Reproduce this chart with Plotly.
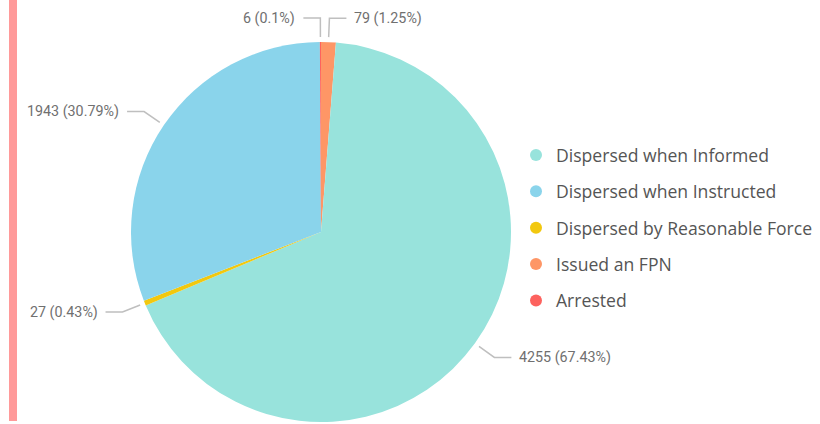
import math
import plotly.graph_objects as go

# ---- data (slice order clockwise from 12 o'clock) ----
slice_labels = ["Issued an FPN", "Dispersed when Informed", "Dispersed by Reasonable Force",
                "Dispersed when Instructed", "Arrested"]
slice_values = [79, 4255, 27, 1943, 6]
legend_order = ["Dispersed when Informed", "Dispersed when Instructed",
                "Dispersed by Reasonable Force", "Issued an FPN", "Arrested"]
colors = {
    "Dispersed when Informed": "#98E3DC",
    "Dispersed when Instructed": "#8AD4EB",
    "Dispersed by Reasonable Force": "#F2C80F",
    "Issued an FPN": "#FE9666",
    "Arrested": "#FD625E",
}

# ---- layout constants ----
W, H = 820, 424
CX, CY, R = 321, 232, 190
LABEL_FONT = dict(family="Roboto", size=14.3, color="#707070")
LEADER_COLOR = "#BFBFBF"

fig = go.Figure()
fig.add_trace(go.Pie(
    labels=slice_labels, values=slice_values, sort=False, direction="clockwise",
    rotation=0, textinfo="none", showlegend=False, hoverinfo="label+value+percent",
    marker=dict(colors=[colors[l] for l in slice_labels], line=dict(width=0)),
    domain=dict(x=[(CX - R) / W, (CX + R) / W], y=[1 - (CY + R) / H, 1 - (CY - R) / H]),
))

# legend entries (dummy traces so legend order differs from slice order)
for i, name in enumerate(legend_order):
    fig.add_trace(go.Scatter(x=[None], y=[None], mode="markers", name=name,
                             legendgroup=f"g{i}",
                             marker=dict(symbol="circle", size=13, color=colors[name])))

def px(x, y):
    return x / W, 1 - y / H

total = sum(slice_values)
shapes = []
annotations = []
cum = 0.0
for lab, v in zip(slice_labels, slice_values):
    frac = v / total
    mid = (cum + frac / 2) * 2 * math.pi
    cum += frac
    s, c = math.sin(mid), math.cos(mid)
    x0, y0 = CX + (R + 5) * s, CY - (R + 5) * c
    x1, y1 = CX + (R + 24) * s, CY - (R + 24) * c
    side = 1 if s >= 0 else -1
    x2 = x1 + side * 17
    p0, p1, p2 = px(x0, y0), px(x1, y1), px(x2, y1)
    shapes.append(dict(type="path", xref="paper", yref="paper",
                       path=f"M {p0[0]},{p0[1]} L {p1[0]},{p1[1]} L {p2[0]},{p2[1]}",
                       line=dict(color=LEADER_COLOR, width=1.5)))
    pct = f"{frac * 100:.2f}".rstrip("0").rstrip(".")
    tx, ty = px(x2 + side * 6, y1)
    annotations.append(dict(x=tx, y=ty, xref="paper", yref="paper", showarrow=False,
                            text=f"{v} ({pct}%)", font=LABEL_FONT,
                            xanchor="left" if side > 0 else "right", yanchor="middle"))

# left accent bar
shapes.append(dict(type="rect", xref="paper", yref="paper", x0=9 / W, x1=17 / W,
                   y0=1 - 421 / H, y1=1, fillcolor="#FF9A9A", line=dict(width=0), layer="below"))

fig.update_layout(
    width=W, height=H, autosize=False,
    margin=dict(l=0, r=0, t=0, b=0),
    paper_bgcolor="white", plot_bgcolor="white",
    xaxis=dict(visible=False), yaxis=dict(visible=False),
    shapes=shapes, annotations=annotations,
    showlegend=True,
    legend=dict(x=516 / W, y=1 - 137 / H, xanchor="left", yanchor="top",
                font=dict(family="Open Sans", size=17.6, color="#555555"),
                tracegroupgap=10.5, traceorder="grouped", itemsizing="constant",
                bgcolor="rgba(0,0,0,0)"),
)

fig.write_html("out.html", config={"displayModeBar": False},
               post_script="document.body.style.margin='0';")
